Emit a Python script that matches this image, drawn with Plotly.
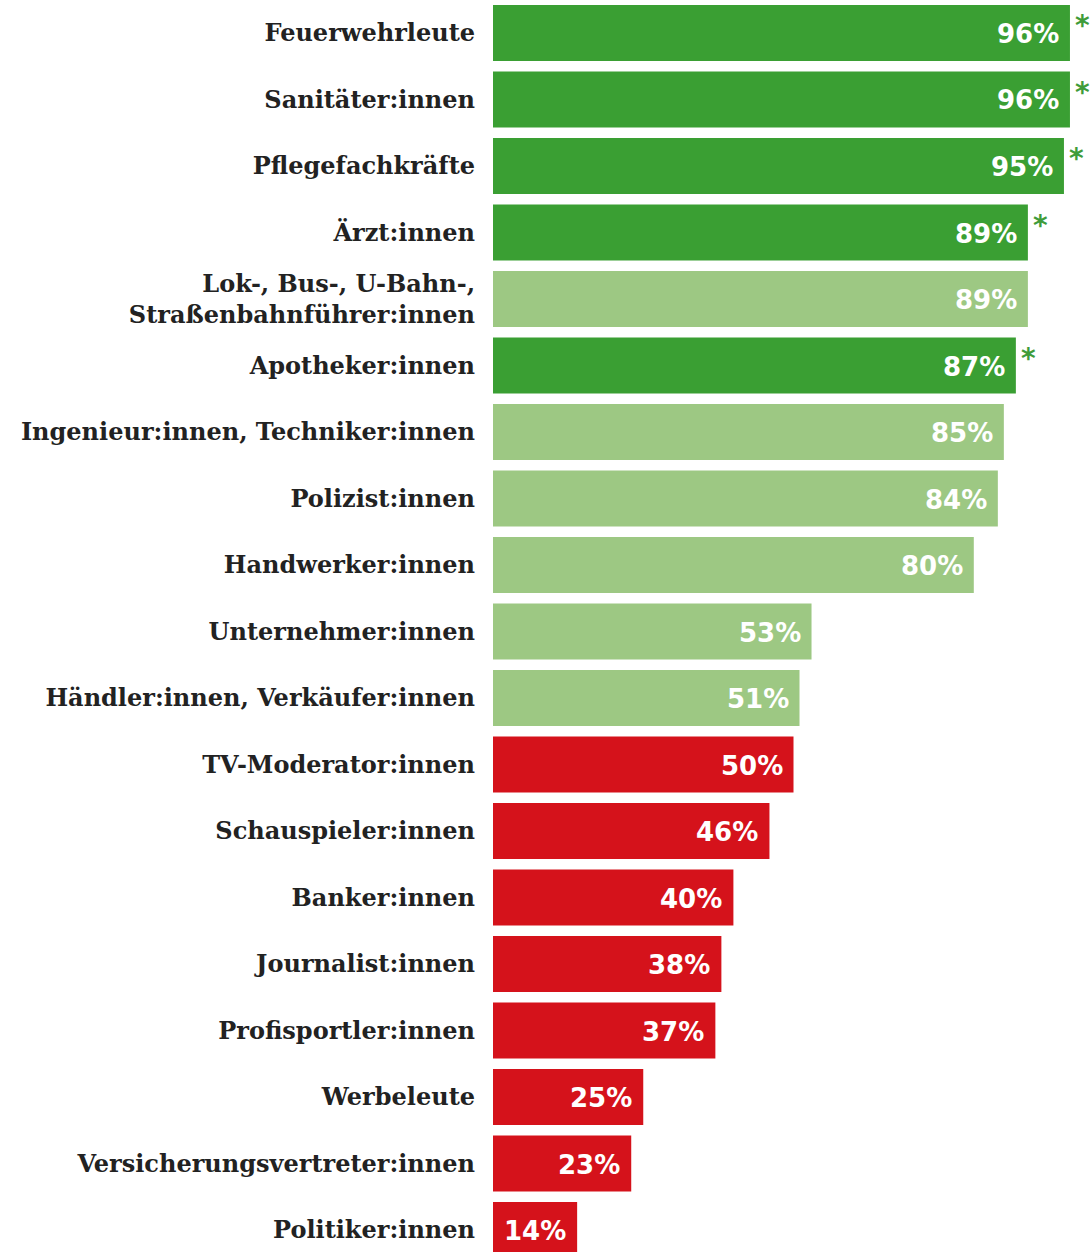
import plotly.graph_objects as go

categories = [
    "Feuerwehrleute", "Sanitäter:innen", "Pflegefachkräfte", "Ärzt:innen",
    "Lok-, Bus-, U-Bahn-,<br>Straßenbahnführer:innen", "Apotheker:innen",
    "Ingenieur:innen, Techniker:innen", "Polizist:innen", "Handwerker:innen",
    "Unternehmer:innen", "Händler:innen, Verkäufer:innen", "TV-Moderator:innen",
    "Schauspieler:innen", "Banker:innen", "Journalist:innen", "Profisportler:innen",
    "Werbeleute", "Versicherungsvertreter:innen", "Politiker:innen",
]
values = [96, 96, 95, 89, 89, 87, 85, 84, 80, 53, 51, 50, 46, 40, 38, 37, 25, 23, 14]
groups = ["dark", "dark", "dark", "dark", "light", "dark", "light", "light", "light",
          "light", "light", "red", "red", "red", "red", "red", "red", "red", "red"]
starred = [True, True, True, True, False, True, False, False, False,
           False, False, False, False, False, False, False, False, False, False]

color_map = {"dark": "#3a9f33", "light": "#9dc883", "red": "#d5121b"}
colors = [color_map[g] for g in groups]
ypos = list(range(len(categories)))

fig = go.Figure(go.Bar(
    x=values, y=ypos, orientation="h", marker=dict(color=colors, line=dict(width=0)),
    width=0.842, hoverinfo="skip",
))

annotations = []
for i, (v, s) in enumerate(zip(values, starred)):
    annotations.append(dict(
        x=v, y=i, xref="x", yref="y", text=f"{v}%", showarrow=False,
        xanchor="right", yanchor="middle", xshift=-9, yshift=-1,
        font=dict(family="DejaVu Sans", size=26, color="white", weight="bold"),
    ))
    if s:
        annotations.append(dict(
            x=v, y=i - 0.42, xref="x", yref="y", text="*", showarrow=False,
            xanchor="left", yanchor="top", xshift=3, yshift=-2,
            font=dict(family="DejaVu Sans", size=28, color="#3f9c3a", weight="bold"),
        ))

fig.update_layout(
    width=1092, height=1252,
    margin=dict(l=493, r=1, t=0, b=0),
    paper_bgcolor="white", plot_bgcolor="white",
    showlegend=False,
    annotations=annotations,
    xaxis=dict(range=[0, 99.5], visible=False, fixedrange=True),
    yaxis=dict(
        range=[18.33, -0.496], tickmode="array", tickvals=ypos, ticktext=categories,
        showgrid=False, zeroline=False, showline=False, ticks="",
        ticklabelstandoff=17, fixedrange=True,
        tickfont=dict(family="DejaVu Serif", size=24, color="#222222", weight="bold"),
    ),
)

fig.write_html("out.html", config={"displayModeBar": False},
               post_script="document.body.style.margin='0';")
